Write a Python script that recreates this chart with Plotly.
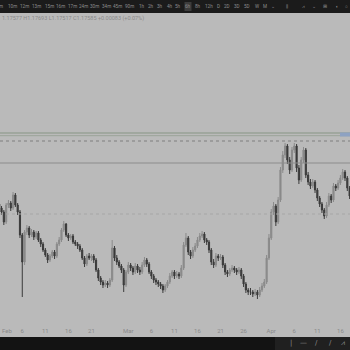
import datetime as dt
import plotly.graph_objects as go

# ---- data (12h candles, arbitrary price units) ----
start = dt.datetime(2023, 2, 1, 0, 0)
first_open = 146
closes = [142,138,128,145,147,142,155,145,138,115,88,118,122,115,118,113,117,110,106,100,
          95,90,94,98,94,106,110,120,126,115,112,114,108,106,104,100,92,86,94,92,
          94,90,80,72,68,65,67,65,70,102,92,88,84,80,65,78,85,82,78,84,
          80,78,85,90,86,78,74,70,68,66,64,60,64,68,74,78,74,76,74,82,
          105,112,98,94,100,104,110,114,116,110,108,100,88,85,94,92,93,85,78,76,
          80,82,80,78,80,74,66,60,58,58,56,58,55,60,64,68,92,112,138,144,
          128,150,180,195,204,190,180,200,204,182,170,190,200,175,168,164,168,160,152,146,
          140,134,145,154,150,164,162,167,172,178,172,162,154,146]
highs = [149,144,140,147,150,149,158,157,147,140,117,120,125,124,121,120,119,119,112,108,
         102,97,96,100,100,108,113,122,129,127,117,116,116,110,108,106,102,94,96,97,
         96,96,92,82,74,70,70,69,72,110,104,95,90,86,82,80,88,87,84,87,
         86,83,88,93,92,88,80,76,72,70,68,66,66,70,77,80,80,79,78,85,
         108,117,114,100,103,107,113,117,119,118,112,110,102,91,97,96,96,95,87,80,
         82,85,84,82,83,82,76,68,62,62,60,61,60,63,67,71,95,116,141,148,
         146,153,183,199,207,206,193,203,207,206,185,193,203,202,178,171,171,170,162,154,
         148,142,148,157,156,167,166,170,175,181,180,174,164,156]
lows = [139,135,125,126,142,139,140,143,135,112,53,85,115,112,113,110,111,108,103,98,
        93,87,88,92,91,92,104,108,118,113,109,110,106,104,101,98,90,83,84,90,
        89,87,78,69,65,62,63,62,63,68,89,85,82,77,58,63,76,79,75,76,
        77,75,76,83,83,76,71,67,65,63,61,57,58,62,66,72,71,72,71,72,
        80,103,95,91,92,98,102,108,112,107,105,97,85,82,83,89,90,82,75,73,
        74,78,77,75,76,71,63,57,55,55,53,54,51,53,58,62,66,90,110,135,
        124,126,148,177,192,186,176,178,197,178,166,168,187,172,165,161,162,157,149,143,
        137,131,132,143,147,148,159,160,165,170,169,159,151,143]
opens = [first_open] + closes[:-1]
dates = [start + dt.timedelta(hours=12 * i) for i in range(len(closes))]

tick_dates = ["2023-02-06", "2023-02-11", "2023-02-16", "2023-02-21", "2023-03-01",
              "2023-03-06", "2023-03-11", "2023-03-16", "2023-03-21", "2023-03-26",
              "2023-04-01", "2023-04-06", "2023-04-11", "2023-04-16"]
tick_text = ["6", "11", "16", "21", "Mar", "6", "11", "16", "21", "26", "Apr", "6", "11", "16"]

upper_line = 217
lower_line = 214.3
dashed_level = 209
solid_level = 187
dotted_level = 136

toolbar_labels = ["m","10m","12m","13m","15m","16m","17m","24m","30m","34m","45m","90m",
                  "1h","2h","3h","4h","5h","6h","8h","12h","D","2D","3D","5D","W","M","⌄",
                  "⫼","⩘","⌄","⊞","◐","○"]
legend_text = "1.17577 H1.17693 L1.17517 C1.17585 +0.00083 (+0.07%)"

# ---- layout constants ----
W = H = 350
BG = "#bababa"
UP = "#8a8a8a"
DOWN = "#3a3a3a"
toolbar_x = [1,12,24,36,49,60,72,83,94,106,117,129,142,151,160,170,178,188,198,209,
             218,227,237,247,257,265,273,287,303,314,325,337,346]

fig = go.Figure(go.Candlestick(
    x=dates, open=opens, high=highs, low=lows, close=closes,
    increasing=dict(line=dict(color=UP, width=1), fillcolor=UP),
    decreasing=dict(line=dict(color=DOWN, width=1), fillcolor=DOWN),
    whiskerwidth=0, hoverinfo="skip"))

shapes = []
shapes.append(dict(type="line", xref="paper", x0=0, x1=1, yref="y", y0=upper_line, y1=upper_line,
                   line=dict(color="#879584", width=1)))
shapes.append(dict(type="line", xref="paper", x0=0, x1=1, yref="y", y0=lower_line, y1=lower_line,
                   line=dict(color="#9aa398", width=1)))
shapes.append(dict(type="line", xref="paper", x0=0, x1=1, yref="y", y0=dashed_level, y1=dashed_level,
                   line=dict(color="#7e7e7e", width=1, dash="dot")))
shapes.append(dict(type="line", xref="paper", x0=0, x1=1, yref="y", y0=solid_level, y1=solid_level,
                   line=dict(color="#8c8c8c", width=1)))
shapes.append(dict(type="line", xref="paper", x0=0, x1=1, yref="y", y0=dotted_level, y1=dotted_level,
                   line=dict(color="#a6a6a6", width=1, dash="dot")))
# small blue price label at right
shapes.append(dict(type="rect", xref="paper", x0=340 / W, x1=1, yref="y", y0=213.5, y1=217.5,
                   fillcolor="#8ea2c2", line=dict(width=0)))
# top toolbar
shapes.append(dict(type="rect", xref="paper", x0=0, x1=1, yref="paper", y0=1, y1=1.06,
                   fillcolor="#1b1b1b", line=dict(width=0), layer="above"))
# highlight of selected interval
shapes.append(dict(type="rect", xref="paper", x0=184.5 / W, x1=191.5 / W, yref="paper",
                   y0=1 + 2 / 309, y1=1 + 11 / 309, fillcolor="#3c3c3c", line=dict(width=0), layer="above"))
# bottom bar
shapes.append(dict(type="rect", xref="paper", x0=0, x1=1, yref="paper", y0=-15 / 309, y1=-0.12,
                   fillcolor="#131313", line=dict(width=0), layer="above"))
shapes.append(dict(type="rect", xref="paper", x0=275 / W, x1=1, yref="paper", y0=-15 / 309, y1=-0.12,
                   fillcolor="#202020", line=dict(width=0), layer="above"))

annotations = []
for lab, px in zip(toolbar_labels, toolbar_x):
    annotations.append(dict(text=lab, xref="paper", x=px / W, yref="paper", y=1 + 6.5 / 309,
                            xanchor="center", yanchor="middle", showarrow=False,
                            font=dict(size=4.6, color="#8c8c8c", family="Roboto")))
annotations.append(dict(text=legend_text, xref="paper", x=0, yref="paper", y=1 - 6 / 309,
                        xanchor="left", yanchor="middle", showarrow=False,
                        font=dict(size=5.5, color="#8a8a8a", family="Roboto")))
annotations.append(dict(text="Feb", xref="paper", x=0, yref="paper", y=-8 / 309,
                        xanchor="left", yanchor="middle", showarrow=False,
                        font=dict(size=6, color="#8a8a8a", family="Roboto")))
tools = ["|", "—", "/", "/", "⩘"]
tools_x = [291, 303, 316, 330, 343]
for t, px in zip(tools, tools_x):
    annotations.append(dict(text=t, xref="paper", x=px / W, yref="paper", y=-21.5 / 309,
                            xanchor="center", yanchor="middle", showarrow=False,
                            font=dict(size=7, color="#8a8a8a", family="DejaVu Sans")))

fig.update_layout(
    width=W, height=H, margin=dict(l=0, r=0, t=13, b=28),
    paper_bgcolor=BG, plot_bgcolor=BG, showlegend=False,
    shapes=shapes, annotations=annotations,
    xaxis=dict(type="date", range=[dt.datetime(2023, 2, 1, 4), dt.datetime(2023, 4, 18, 2)],
               rangeslider=dict(visible=False), showgrid=False, zeroline=False, showline=False,
               tickvals=tick_dates, ticktext=tick_text, ticks="outside", ticklen=3, tickcolor=BG,
               tickfont=dict(size=6, color="#8a8a8a", family="Roboto")),
    yaxis=dict(range=[28, 337], visible=False, showgrid=False, zeroline=False),
)

fig.write_html("out.html")
